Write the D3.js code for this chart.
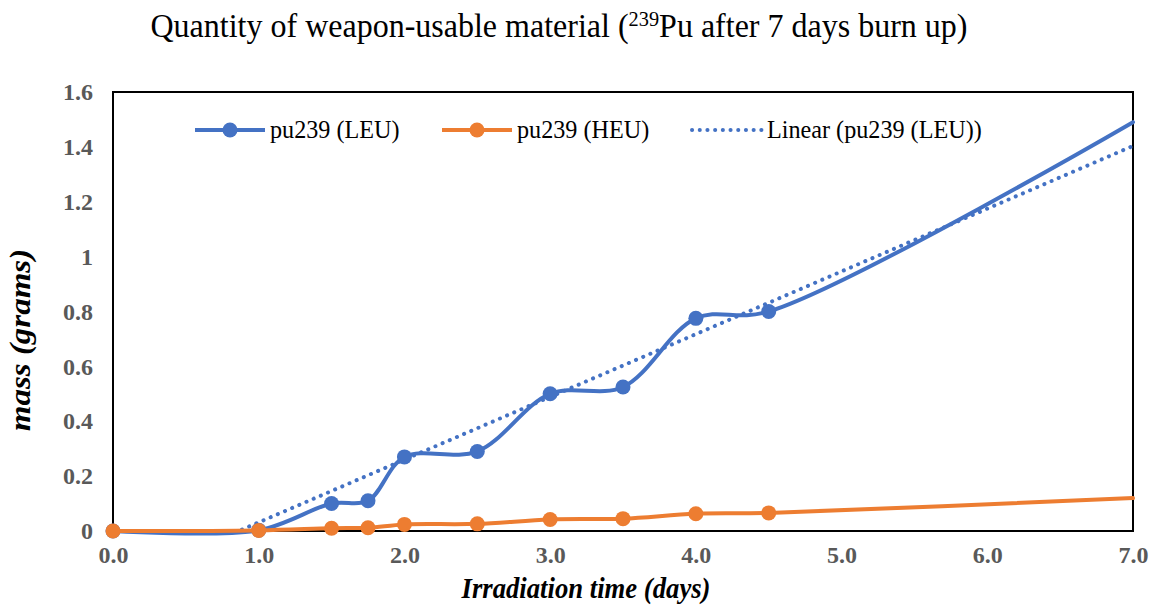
<!DOCTYPE html>
<html><head><meta charset="utf-8">
<script src="https://cdn.jsdelivr.net/npm/d3@7"></script>
<style>body{margin:0;background:#fff}</style>
</head><body>
<svg id="c" width="1154" height="609"></svg>
<script>
const days = [0, 1.0, 1.5, 1.75, 2.0, 2.5, 3.0, 3.5, 4.0, 4.5, 7.0];
const leu = [0, 0.003, 0.1, 0.11, 0.27, 0.29, 0.5, 0.525, 0.775, 0.8, 1.49];
const heu = [0, 0.002, 0.01, 0.012, 0.024, 0.026, 0.042, 0.045, 0.063, 0.066, 0.12];
const xTicks = [0, 1, 2, 3, 4, 5, 6, 7];
const yTicks = [0, 0.2, 0.4, 0.6, 0.8, 1.0, 1.2, 1.4, 1.6];
const markerMax = 4.5;

const FONT = '"Liberation Serif"';
const svg = d3.select("#c");
const L = 113, R = 1133, T = 92, B = 531;
const x = d3.scaleLinear().domain([0, 7]).range([L, R]);
const y = d3.scaleLinear().domain([0, 1.6]).range([B, T]);

function txt(parent, tx, ty, size, opts={}) {
  const s = opts.sx || 1;
  const t = parent.append("text")
    .attr("transform", `translate(${tx},${ty})` + (opts.rot ? ` rotate(${opts.rot}) scale(1,${s})` : ` scale(${s},1)`))
    .attr("text-anchor", opts.anchor || "start")
    .style("font-family", FONT).style("font-size", size + "px")
    .style("font-weight", opts.bold ? "bold" : "normal")
    .style("font-style", opts.italic ? "italic" : "normal")
    .attr("fill", opts.fill || "#000");
  return t;
}

svg.append("defs").append("clipPath").attr("id","pc")
  .append("rect").attr("x",L).attr("y",T).attr("width",R-L).attr("height",B-T);

// title
const title = txt(svg, 559, 37, 33, {anchor:"middle", sx:0.97});
title.append("tspan").text("Quantity of weapon-usable material (");
title.append("tspan").style("font-size","21px").attr("dy",-11).text("239");
title.append("tspan").attr("dy",11).text("Pu after 7 days burn up)");

// axes
const xAxis = d3.axisBottom(x).tickValues(xTicks).tickFormat(d3.format(".1f")).tickSize(0).tickPadding(15);
const yAxis = d3.axisLeft(y).tickValues(yTicks).tickFormat(d => d===0?"0":(d===1?"1":d3.format(".1f")(d))).tickSize(0).tickPadding(20);
const gx = svg.append("g").attr("transform",`translate(0,${B})`).call(xAxis);
const gy = svg.append("g").attr("transform",`translate(${L},0)`).call(yAxis);
[gx, gy].forEach(g => {
  g.attr("font-family",null).attr("font-size",null);
  g.select(".domain").remove();
  g.selectAll("text").style("font-family",FONT).style("font-size","24px").style("font-weight","bold").attr("fill","#595959");
});

// frame
svg.append("rect").attr("x",L).attr("y",T).attr("width",R-L).attr("height",B-T)
  .attr("fill","none").attr("stroke","#000").attr("stroke-width",2);

// trendline (linear regression of LEU)
const mx = d3.mean(days), my = d3.mean(leu);
const sxy = d3.sum(days, (d,i) => (d-mx)*(leu[i]-my));
const sxx = d3.sum(days, d => (d-mx)*(d-mx));
const slope = sxy/sxx, icpt = my - slope*mx;
const plot = svg.append("g").attr("clip-path","url(#pc)");

const blue = "#4472C4", orange = "#ED7D31";
const line = d3.line().x(d => x(d[0])).y(d => y(d[1])).curve(d3.curveCatmullRom.alpha(0.5));
const leuPts = days.map((d,i)=>[d,leu[i]]);
const heuPts = days.map((d,i)=>[d,heu[i]]);

svg.append("path").attr("d", line(leuPts)).attr("fill","none").attr("stroke",blue).attr("stroke-width",4).attr("stroke-linecap","round");
svg.selectAll(".ml").data(leuPts.filter(p=>p[0]<=markerMax)).join("circle")
  .attr("cx",d=>x(d[0])).attr("cy",d=>y(d[1])).attr("r",7.5).attr("fill",blue);

plot.append("line").attr("x1",x(0)).attr("y1",y(icpt)).attr("x2",x(7)).attr("y2",y(icpt+slope*7))
  .attr("stroke",blue).attr("stroke-width",4).attr("stroke-dasharray","0.1 7.7").attr("stroke-linecap","round");

svg.append("path").attr("d", line(heuPts)).attr("fill","none").attr("stroke",orange).attr("stroke-width",4).attr("stroke-linecap","round");
svg.selectAll(".mh").data(heuPts.filter(p=>p[0]<=markerMax)).join("circle")
  .attr("cx",d=>x(d[0])).attr("cy",d=>y(d[1])).attr("r",7.5).attr("fill",orange);

// axis titles
txt(svg, 586, 598, 29, {anchor:"middle", bold:true, italic:true, sx:0.92}).text("Irradiation time (days)");
txt(svg, 30, 340, 33, {anchor:"middle", bold:true, italic:true, rot:-90, sx:0.92}).text("mass (grams)");

// legend
const leg = [
  {label:"pu239 (LEU)", color:blue, x0:195, marker:true, dash:null},
  {label:"pu239 (HEU)", color:orange, x0:442, marker:true, dash:null},
  {label:"Linear (pu239 (LEU))", color:blue, x0:692, marker:false, dash:"0.1 7.6"}
];
const ly = 130;
leg.forEach(l => {
  const g = svg.append("g");
  g.append("line").attr("x1",l.x0).attr("x2",l.x0+70).attr("y1",ly).attr("y2",ly)
    .attr("stroke",l.color).attr("stroke-width",4).attr("stroke-dasharray",l.dash).attr("stroke-linecap",l.dash?"round":"butt");
  if (l.marker) g.append("circle").attr("cx",l.x0+35).attr("cy",ly).attr("r",7.5).attr("fill",l.color);
  txt(g, l.x0+75, ly+8, 26, {sx:0.93}).text(l.label);
});
</script>
</body></html>
